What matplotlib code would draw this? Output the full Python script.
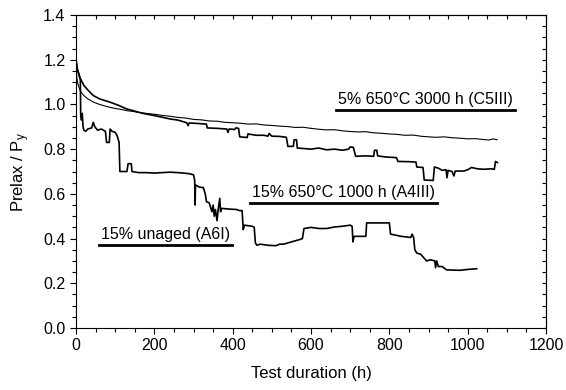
import matplotlib
matplotlib.use('Agg')
import matplotlib.pyplot as plt
from matplotlib.ticker import MultipleLocator, NullFormatter

plt.rcParams['font.family'] = ['Liberation Sans', 'DejaVu Sans']
plt.rcParams['mathtext.default'] = 'regular'

# 5% 650C 3000 h (C5III) - thin line
t_c5 = [0, 2, 5, 10, 15, 20, 30, 45, 60, 80, 100, 115, 130, 145, 160, 180, 200, 220, 240,
        260, 280, 300, 320, 340, 360, 380, 400, 420, 440, 460, 480, 500, 520, 540, 560,
        580, 600, 620, 640, 660, 680, 700, 720, 740, 760, 780, 800, 820, 840, 860, 880,
        900, 920, 940, 960, 980, 1000, 1020, 1040, 1055, 1065, 1075]
v_c5 = [1.17, 1.12, 1.09, 1.065, 1.05, 1.04, 1.025, 1.01, 1.0, 0.99, 0.982, 0.978, 0.972,
        0.969, 0.964, 0.96, 0.956, 0.951, 0.947, 0.942, 0.939, 0.933, 0.931, 0.926, 0.925,
        0.92, 0.918, 0.916, 0.912, 0.913, 0.908, 0.906, 0.903, 0.901, 0.897, 0.898, 0.893,
        0.889, 0.886, 0.887, 0.882, 0.879, 0.877, 0.878, 0.873, 0.871, 0.868, 0.866, 0.862,
        0.863, 0.858, 0.855, 0.853, 0.855, 0.851, 0.849, 0.846, 0.847, 0.843, 0.841, 0.846,
        0.842]

# 15% 650C 1000 h (A4III)
t_a4 = [0, 3, 10, 20, 30, 44, 60, 87, 110, 129, 150, 171, 200, 214, 240, 260, 283, 286,
        289, 310, 333, 335, 360, 385, 388, 391, 405, 408, 415, 418, 437, 439, 460, 480,
        490, 493, 500, 520, 537, 541, 555, 557, 563, 565, 600, 620, 640, 660, 680, 696,
        700, 708, 710, 714, 740, 760, 762, 768, 770, 790, 818, 822, 850, 868, 870, 886,
        889, 912, 915, 925, 935, 945, 947, 950, 960, 965, 968, 990, 1000, 1010, 1025,
        1040, 1060, 1068, 1071, 1076]
v_a4 = [1.2, 1.16, 1.12, 1.085, 1.065, 1.04, 1.025, 1.01, 0.995, 0.98, 0.97, 0.96, 0.95,
        0.945, 0.935, 0.93, 0.918, 0.905, 0.917, 0.915, 0.912, 0.895, 0.893, 0.89, 0.875,
        0.89, 0.888, 0.895, 0.893, 0.855, 0.852, 0.868, 0.862, 0.862, 0.858, 0.87, 0.858,
        0.857, 0.853, 0.812, 0.813, 0.842, 0.842, 0.805, 0.8, 0.805, 0.797, 0.8, 0.795,
        0.8, 0.81, 0.808, 0.795, 0.768, 0.77, 0.768, 0.795, 0.795, 0.77, 0.765, 0.762,
        0.745, 0.744, 0.742, 0.72, 0.718, 0.662, 0.66, 0.72, 0.715, 0.705, 0.708, 0.672,
        0.705, 0.7, 0.68, 0.702, 0.702, 0.708, 0.718, 0.712, 0.71, 0.712, 0.71, 0.745,
        0.74]

# 15% unaged (A6I)
t_a6 = [0, 3, 8, 11, 12, 14, 16, 18, 20, 25, 30, 40, 44, 48, 55, 65, 75, 78, 85, 87, 92,
        100, 105, 110, 112, 130, 133, 141, 143, 160, 180, 200, 220, 240, 260, 280, 290,
        300, 303, 304, 305, 315, 325, 330, 333, 340, 347, 350, 353, 356, 360, 363, 367,
        369, 372, 390, 410, 418, 424, 427, 430, 450, 455, 458, 462, 470, 490, 510, 520,
        530, 540, 550, 560, 570, 578, 582, 600, 620, 640, 660, 680, 700, 705, 707, 710,
        740, 742, 770, 800, 803, 830, 855, 858, 862, 865, 870, 880, 890, 895, 905, 916,
        918, 921, 925, 935, 946, 980, 1000, 1023]
v_a6 = [1.2, 1.16, 1.13, 1.11, 0.95, 0.93, 0.96, 0.9, 0.885, 0.88, 0.89, 0.895, 0.92,
        0.9, 0.885, 0.89, 0.88, 0.83, 0.83, 0.89, 0.88, 0.875, 0.86, 0.83, 0.7, 0.7,
        0.735, 0.735, 0.7, 0.695, 0.695, 0.693, 0.695, 0.697, 0.695, 0.692, 0.69, 0.685,
        0.66, 0.55, 0.64, 0.63, 0.628, 0.6, 0.565, 0.56, 0.52, 0.55, 0.5, 0.53, 0.48,
        0.53, 0.58, 0.52, 0.535, 0.532, 0.53, 0.525, 0.525, 0.44, 0.46, 0.455, 0.45,
        0.38, 0.37, 0.375, 0.37, 0.368, 0.375, 0.375, 0.38, 0.385, 0.39, 0.395, 0.4,
        0.445, 0.45, 0.445, 0.445, 0.452, 0.455, 0.46, 0.455, 0.385, 0.41, 0.41, 0.47,
        0.47, 0.47, 0.42, 0.41, 0.405, 0.42, 0.405, 0.35, 0.335, 0.33, 0.31, 0.3, 0.305,
        0.3, 0.27, 0.3, 0.275, 0.275, 0.26, 0.258, 0.262, 0.265]

labels = ['5% 650°C 3000 h (C5III)', '15% 650°C 1000 h (A4III)', '15% unaged (A6I)']
label_x = [(663, 1120), (444, 921), (59, 398)]
label_y = [0.975, 0.558, 0.37]

fig = plt.figure(figsize=(5.66, 3.9), dpi=100)
ax = fig.add_axes([0.1343, 0.159, 0.8304, 0.8025])

ax.plot(t_c5, v_c5, color='black', lw=0.8)
ax.plot(t_a4, v_a4, color='black', lw=1.2)
ax.plot(t_a6, v_a6, color='black', lw=1.2)

for lab, (x0, x1), y in zip(labels, label_x, label_y):
    ax.plot([x0, x1], [y, y], color='black', lw=2)
    ax.text((x0 + x1) / 2, y + 0.015, lab, ha='center', va='bottom', fontsize=11.5)

ax.set_xlim(0, 1200)
ax.set_ylim(0, 1.4)
ax.xaxis.set_major_locator(MultipleLocator(200))
ax.xaxis.set_minor_locator(MultipleLocator(50))
ax.yaxis.set_major_locator(MultipleLocator(0.2))
ax.yaxis.set_minor_locator(MultipleLocator(0.05))
ax.yaxis.set_major_formatter(plt.FormatStrFormatter('%.1f'))
ax.tick_params(which='both', direction='out', width=0.8, labelsize=11.5)
ax.tick_params(which='major', length=4)
ax.tick_params(which='minor', length=3)

# top and right: inward ticks, no labels
top = ax.secondary_xaxis('top')
top.xaxis.set_major_locator(MultipleLocator(50))
top.xaxis.set_major_formatter(NullFormatter())
top.tick_params(direction='in', length=3, width=0.8)
right = ax.secondary_yaxis('right')
right.yaxis.set_major_locator(MultipleLocator(0.05))
right.yaxis.set_major_formatter(NullFormatter())
right.tick_params(direction='in', length=3, width=0.8)

ax.set_xlabel('Test duration (h)', fontsize=12, labelpad=9)
ax.set_ylabel('Prelax / P$_y$', fontsize=12, labelpad=8)

fig.savefig('out.png', dpi=100)
